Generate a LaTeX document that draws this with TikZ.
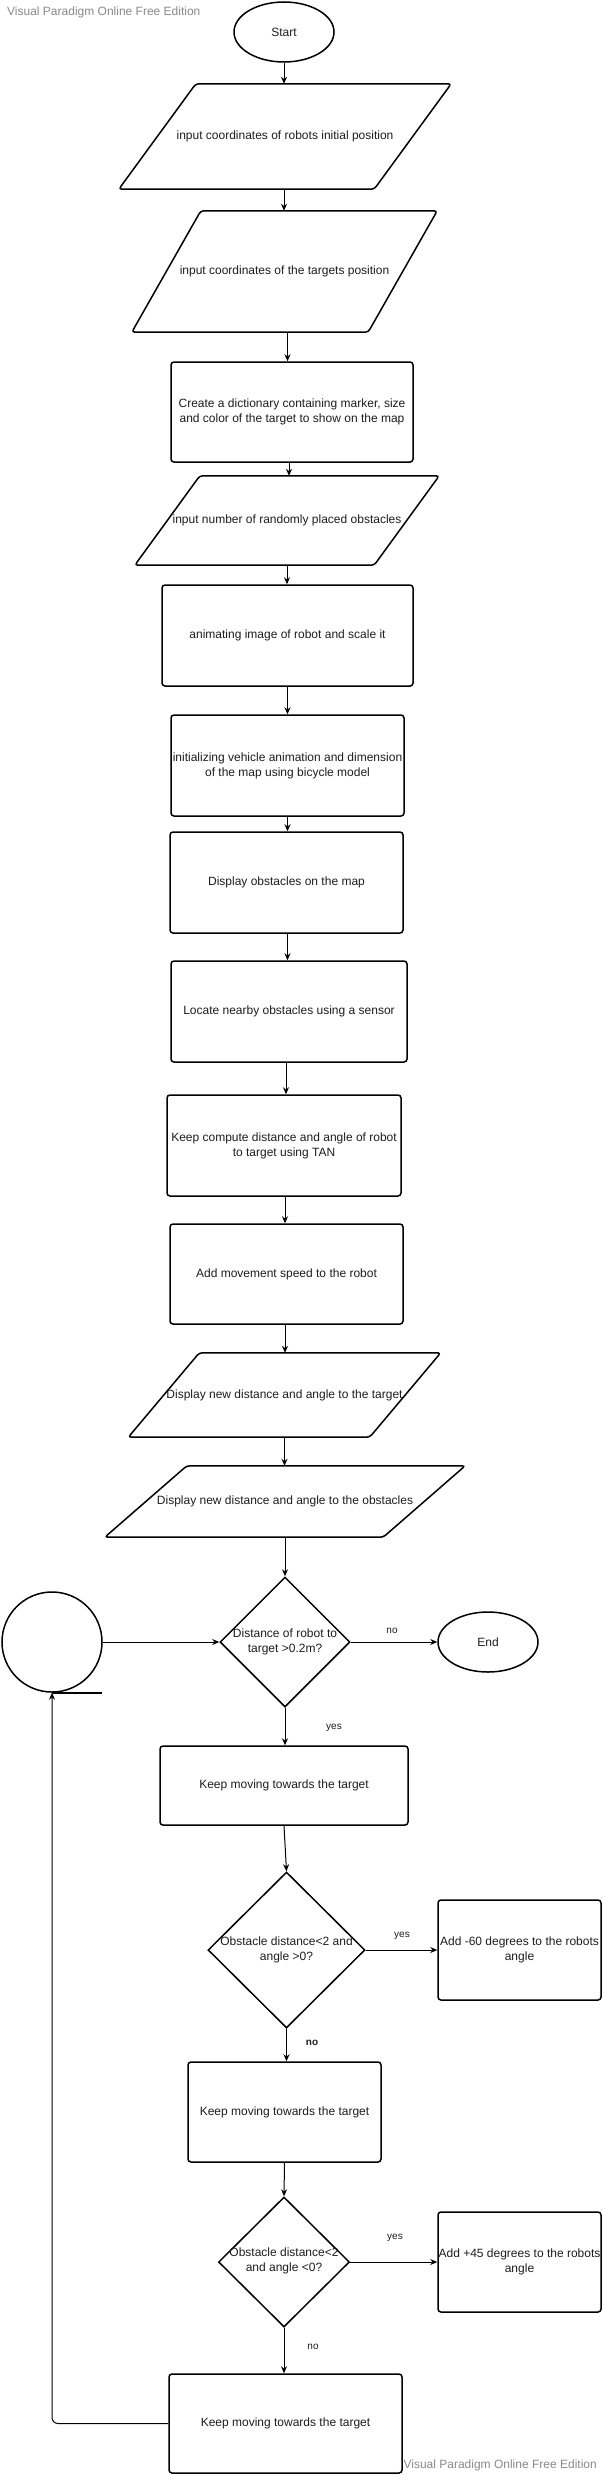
\documentclass[tikz,border=0pt]{standalone}
\usepackage{fontspec}
\setmainfont{Liberation Sans}
\usetikzlibrary{calc,shapes.geometric,arrows.meta}
\definecolor{wm}{HTML}{8A8A8A}
\definecolor{ink}{HTML}{1E1E1E}
\tikzset{
  box/.style={draw=black, line width=1.5pt, rounded corners=3pt},
  rbox/.style={box, rectangle, inner sep=0pt, align=center, text=ink, font=\fontsize{12}{15}\selectfont},
  txt/.style={inner sep=0pt, align=center, text=ink, font=\fontsize{12}{15}\selectfont},
  term/.style={draw=black, line width=1.5pt, ellipse, minimum width=100pt, minimum height=60pt, inner sep=0pt, text=ink, font=\fontsize{12}{15}\selectfont},
  dia/.style={draw=black, line width=1.5pt, diamond, inner sep=0pt},
  conn/.style={draw=black, line width=1pt, -{Stealth[length=7pt,width=6pt]}},
  lbl/.style={inner sep=0pt, text=ink, font=\fontsize{10}{12}\selectfont},
  wmark/.style={inner sep=0pt, text=wm, font=\fontsize{12}{14}\selectfont}
}
\newcommand\parabox[7]{%
  \node[txt, minimum width=#4pt, minimum height=#5pt] (#1) at (#2,#3) {#7};
  \draw[box] ($(#1.north west)+(#6/2,0)$) -- ($(#1.north east)+(#6/2,0)$) -- ($(#1.south east)-(#6/2,0)$) -- ($(#1.south west)-(#6/2,0)$) -- cycle;
}
\begin{document}
\begin{tikzpicture}[x=1pt,y=-1pt]
\useasboundingbox (0,0) rectangle (603,2475);
\fill[white] (0,0) rectangle (603,2475);

\node[wmark, anchor=west] (wm1) at (7,12) {Visual Paradigm Online Free Edition};
\node[wmark, anchor=east] (wm2) at (597,2465) {Visual Paradigm Online Free Edition};

\node[term] (start) at (284,32) {Start};
\parabox{p1}{285}{136.5}{255}{105}{77}{input coordinates of robots initial position}
\parabox{p2}{284.5}{271.5}{236}{121}{69}{input coordinates of the targets position}
\node[rbox, minimum width=242pt, minimum height=100pt] (r3) at (292,412) {Create a dictionary containing marker, size\\and color of the target to show on the map};
\parabox{p4}{287}{520.5}{239}{89}{65}{input number of randomly placed obstacles}
\node[rbox, minimum width=251pt, minimum height=101pt] (r5) at (287.5,635.5) {animating image of robot and scale it};
\node[rbox, minimum width=233pt, minimum height=101pt] (r6) at (287.5,765.5) {initializing vehicle animation and dimension\\of the map using bicycle model};
\node[rbox, minimum width=233pt, minimum height=101pt] (r7) at (286.5,882.5) {Display obstacles on the map};
\node[rbox, minimum width=236pt, minimum height=101pt] (r8) at (289,1011.5) {Locate nearby obstacles using a sensor};
\node[rbox, minimum width=234pt, minimum height=101pt] (r9) at (284,1145.5) {Keep compute distance and angle of robot\\to target using TAN};
\node[rbox, minimum width=233pt, minimum height=100pt] (r10) at (286.5,1274) {Add movement speed to the robot};
\parabox{p11}{284.5}{1395}{241}{84}{71}{Display new distance and angle to the target}
\parabox{p12}{285}{1501.5}{278}{71}{82}{Display new distance and angle to the obstacles}

\node[dia, minimum width=130pt, minimum height=130pt] (d13) at (285,1642) {};
\node[txt] (d13t) at (285,1642) {Distance of robot to\\target >0.2m?};
\node[term] (end) at (488,1642) {End};
\node[draw=black, line width=1.5pt, circle, minimum size=100pt, inner sep=0pt] (circ) at (52,1642) {};
\draw[line width=1.5pt] (circ.south) -- ++(50,0);

\node[rbox, minimum width=248pt, minimum height=79pt] (r14) at (284,1785.5) {Keep moving towards the target};
\node[dia, minimum width=157pt, minimum height=156pt] (d15) at (286.5,1950) {};
\node[txt] (d15t) at (286.5,1950) {Obstacle distance<2 and\\angle >0?};
\node[rbox, minimum width=163pt, minimum height=100pt] (r16) at (519.5,1950) {Add -60 degrees to the robots\\angle};
\node[rbox, minimum width=193pt, minimum height=100pt] (r17) at (284.5,2112) {Keep moving towards the target};
\node[dia, minimum width=131pt, minimum height=130pt] (d18) at (284,2262) {};
\node[txt] (d18t) at (284,2261) {Obstacle distance<2\\and angle <0?};
\node[rbox, minimum width=163pt, minimum height=100pt] (r19) at (519.5,2262) {Add +45 degrees to the robots\\angle};
\node[rbox, minimum width=233pt, minimum height=99pt] (r20) at (285.5,2423.5) {Keep moving towards the target};

\draw[conn] (start.south) -- (start.south |- p1.north);
\draw[conn] (p1.south -| start.south) -- (start.south |- p2.north);
\draw[conn] ([xshift=3pt]p2.south) -- ([xshift=3pt]p2.south |- r3.north);
\draw[conn] ([xshift=-3pt]r3.south) -- ([xshift=-3pt]r3.south |- p4.north);
\draw[conn] (p4.south) -- (p4.south |- r5.north);
\draw[conn] (r5.south) -- (r5.south |- r6.north);
\draw[conn] (r6.south) -- (r6.south |- r7.north);
\draw[conn] ([xshift=1pt]r7.south) -- ([xshift=1pt]r7.south |- r8.north);
\draw[conn] ([xshift=-3pt]r8.south) -- ([xshift=-3pt]r8.south |- r9.north);
\draw[conn] ([xshift=1pt]r9.south) -- ([xshift=1pt]r9.south |- r10.north);
\draw[conn] ([xshift=-1.5pt]r10.south) -- ([xshift=-1.5pt]r10.south |- p11.north);
\draw[conn] (p11.south) -- (p11.south |- p12.north);
\draw[conn] (p12.south) -- (d13.north);
\draw[conn] (d13.east) -- node[lbl, above=8pt, xshift=-2pt] (no1) {no} (end.west);
\draw[conn] (circ.east) -- (d13.west);
\draw[conn] (d13.south) -- (d13.south |- r14.north);
\node[lbl] (yes1) at (334,1728) {yes};
\draw[conn] (r14.south) -- (d15.north);
\draw[conn] (d15.east) -- (r16.west);
\node[lbl] (yes2) at (402,1936) {yes};
\draw[conn] (d15.south) -- (d15.south |- r17.north);
\node[lbl, font=\fontsize{10}{12}\selectfont\bfseries] (no2) at (312,2043) {no};
\draw[conn] (r17.south) -- (d18.north);
\draw[conn] (d18.east) -- (r19.west);
\node[lbl] (yes3) at (395,2238) {yes};
\draw[conn] (d18.south) -- (d18.south |- r20.north);
\node[lbl] (no3) at (313,2347) {no};
\draw[conn, rounded corners=6pt] (r20.west) -| (circ.south);
\end{tikzpicture}
\end{document}
